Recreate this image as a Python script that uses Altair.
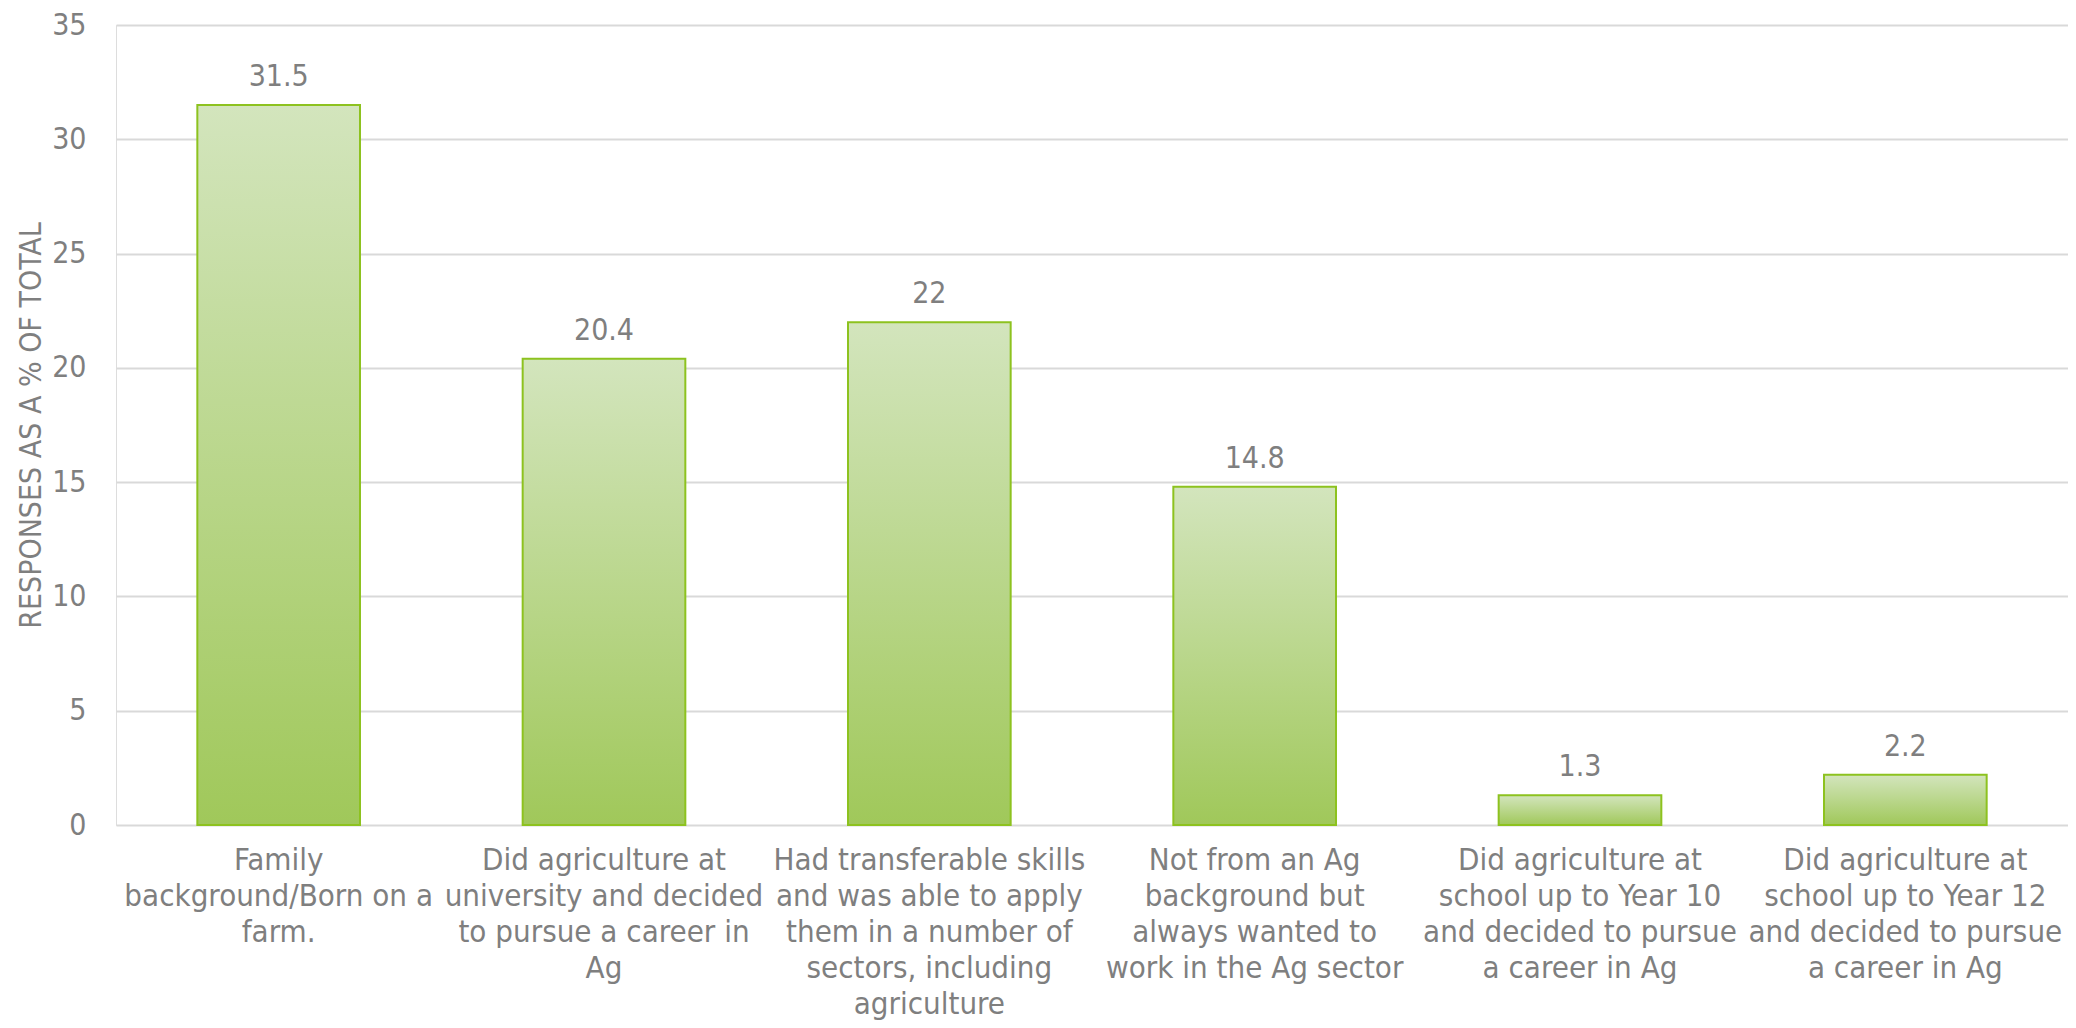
import altair as alt
import pandas as pd

categories = [
    "Family\nbackground/Born on a\nfarm.",
    "Did agriculture at\nuniversity and decided\nto pursue a career in\nAg",
    "Had transferable skills\nand was able to apply\nthem in a number of\nsectors, including\nagriculture",
    "Not from an Ag\nbackground but\nalways wanted to\nwork in the Ag sector",
    "Did agriculture at\nschool up to Year 10\nand decided to pursue\na career in Ag",
    "Did agriculture at\nschool up to Year 12\nand decided to pursue\na career in Ag",
]
values = [31.5, 20.4, 22, 14.8, 1.3, 2.2]
value_labels = ["31.5", "20.4", "22", "14.8", "1.3", "2.2"]
y_ticks = [0, 5, 10, 15, 20, 25, 30, 35]

df = pd.DataFrame({"cat": categories, "val": values, "lab": value_labels})

FONT = "DejaVu Sans Condensed, DejaVu Sans, sans-serif"
GRAY = "#7F7F7F"

x = alt.X(
    "cat:N",
    sort=categories,
    scale=alt.Scale(paddingInner=0.5, paddingOuter=0.25),
    axis=alt.Axis(
        title=None,
        labelAngle=0,
        labelExpr="split(datum.value, '\\n')",
        labelFont=FONT,
        labelFontSize=31,
        labelColor=GRAY,
        labelLineHeight=36,
        labelPadding=20,
        labelLimit=0,
        ticks=False,
        domain=False,
        grid=False,
    ),
)
y = alt.Y(
    "val:Q",
    scale=alt.Scale(domain=[0, 35], nice=False),
    axis=alt.Axis(
        title="RESPONSES  AS A % OF TOTAL",
        values=y_ticks,
        titleFont=FONT,
        titleFontSize=30,
        titleFontWeight="normal",
        titleColor=GRAY,
        titlePadding=5,
        labelFont=FONT,
        labelFontSize=30,
        labelColor=GRAY,
        labelPadding=30,
        ticks=False,
        domain=False,
        grid=True,
        gridColor="#D9D9D9",
        gridWidth=2,
    ),
)

grad = alt.Gradient(
    gradient="linear",
    stops=[
        alt.GradientStop(color="#D3E5BD", offset=0),
        alt.GradientStop(color="#A0C85A", offset=1),
    ],
    x1=0, x2=0, y1=0, y2=1,
)

bars = alt.Chart(df).mark_bar(
    color=grad, stroke="#8DC21F", strokeWidth=2
).encode(x=x, y=y)

texts = alt.Chart(df).mark_text(
    font=FONT, fontSize=30, color=GRAY, baseline="alphabetic", dy=-19
).encode(x=alt.X("cat:N", sort=categories), y="val:Q", text="lab:N")

chart = (
    alt.layer(bars, texts)
    .properties(
        width=1952,
        height=800,
        autosize=alt.AutoSizeParams(type="none"),
        padding={"left": 108, "top": 17, "right": 0, "bottom": 195},
    )
    .configure_view(stroke=None)
    .configure(background="white")
)

chart.save("out.html", embed_options={"renderer": "svg", "actions": False})
